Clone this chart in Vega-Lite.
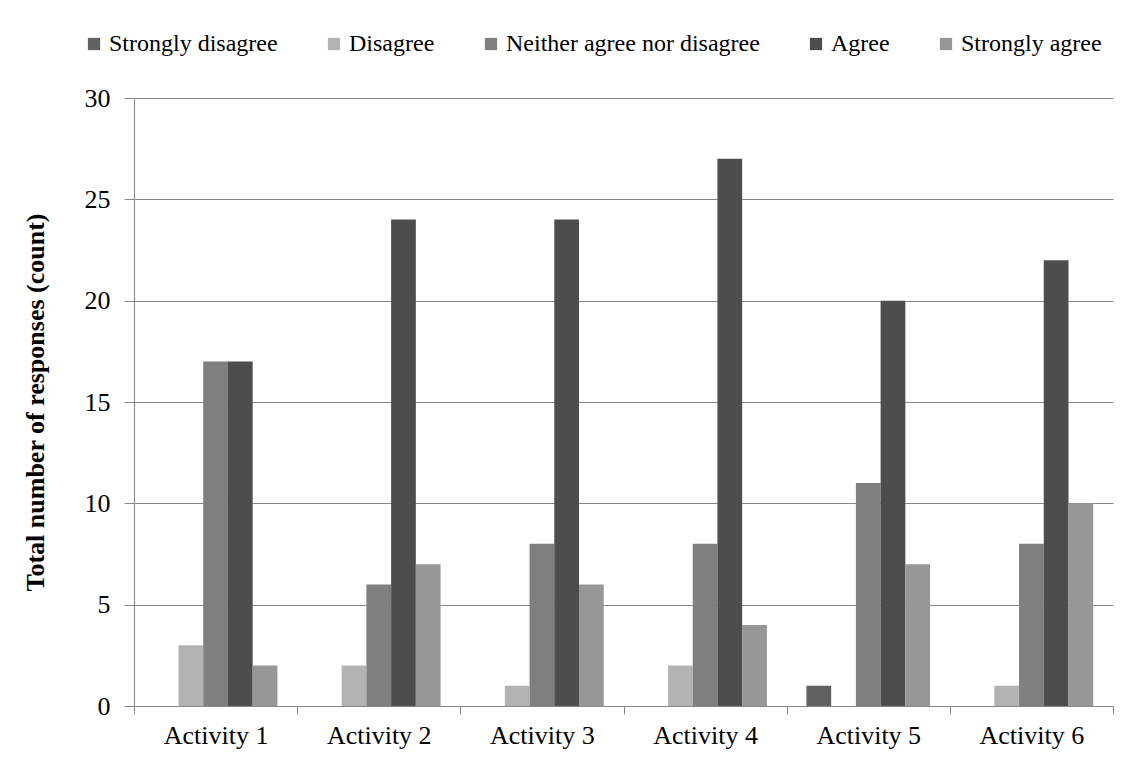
{
  "$schema": "https://vega.github.io/schema/vega-lite/v6.json",
  "autosize": {"type": "none"},
  "width": 979,
  "height": 608,
  "padding": {"left": 134, "top": 98, "right": 16, "bottom": 64},
  "background": "white",
  "data": {
    "values": [
      {"activity": "Activity 1", "response": "Strongly disagree", "count": 0},
      {"activity": "Activity 1", "response": "Disagree", "count": 3},
      {"activity": "Activity 1", "response": "Neither agree nor disagree", "count": 17},
      {"activity": "Activity 1", "response": "Agree", "count": 17},
      {"activity": "Activity 1", "response": "Strongly agree", "count": 2},
      {"activity": "Activity 2", "response": "Strongly disagree", "count": 0},
      {"activity": "Activity 2", "response": "Disagree", "count": 2},
      {"activity": "Activity 2", "response": "Neither agree nor disagree", "count": 6},
      {"activity": "Activity 2", "response": "Agree", "count": 24},
      {"activity": "Activity 2", "response": "Strongly agree", "count": 7},
      {"activity": "Activity 3", "response": "Strongly disagree", "count": 0},
      {"activity": "Activity 3", "response": "Disagree", "count": 1},
      {"activity": "Activity 3", "response": "Neither agree nor disagree", "count": 8},
      {"activity": "Activity 3", "response": "Agree", "count": 24},
      {"activity": "Activity 3", "response": "Strongly agree", "count": 6},
      {"activity": "Activity 4", "response": "Strongly disagree", "count": 0},
      {"activity": "Activity 4", "response": "Disagree", "count": 2},
      {"activity": "Activity 4", "response": "Neither agree nor disagree", "count": 8},
      {"activity": "Activity 4", "response": "Agree", "count": 27},
      {"activity": "Activity 4", "response": "Strongly agree", "count": 4},
      {"activity": "Activity 5", "response": "Strongly disagree", "count": 1},
      {"activity": "Activity 5", "response": "Disagree", "count": 0},
      {"activity": "Activity 5", "response": "Neither agree nor disagree", "count": 11},
      {"activity": "Activity 5", "response": "Agree", "count": 20},
      {"activity": "Activity 5", "response": "Strongly agree", "count": 7},
      {"activity": "Activity 6", "response": "Strongly disagree", "count": 0},
      {"activity": "Activity 6", "response": "Disagree", "count": 1},
      {"activity": "Activity 6", "response": "Neither agree nor disagree", "count": 8},
      {"activity": "Activity 6", "response": "Agree", "count": 22},
      {"activity": "Activity 6", "response": "Strongly agree", "count": 10}
    ]
  },
  "mark": {"type": "bar"},
  "encoding": {
    "x": {
      "field": "activity",
      "type": "nominal",
      "sort": ["Activity 1", "Activity 2", "Activity 3", "Activity 4", "Activity 5", "Activity 6"],
      "scale": {"paddingInner": 0, "paddingOuter": 0},
      "axis": {
        "title": null,
        "labelAngle": 0,
        "labelFontSize": 26,
        "labelColor": "#000000",
        "labelPadding": 8,
        "tickBand": "extent",
        "tickSize": 8,
        "tickColor": "#888888",
        "domainColor": "#888888",
        "grid": false
      }
    },
    "xOffset": {
      "field": "response",
      "type": "nominal",
      "sort": ["Strongly disagree", "Disagree", "Neither agree nor disagree", "Agree", "Strongly agree"],
      "scale": {"paddingInner": 0, "paddingOuter": 0.8}
    },
    "y": {
      "field": "count",
      "type": "quantitative",
      "scale": {"domain": [0, 30]},
      "axis": {
        "title": "Total number of responses (count)",
        "titleFontSize": 26,
        "titleFontWeight": "bold",
        "titleColor": "#000000",
        "titlePadding": 36,
        "values": [0, 5, 10, 15, 20, 25, 30],
        "labelFontSize": 26,
        "labelColor": "#000000",
        "labelPadding": 14,
        "tickSize": 10,
        "tickColor": "#888888",
        "domainColor": "#888888",
        "grid": true,
        "gridColor": "#888888"
      }
    },
    "color": {
      "field": "response",
      "type": "nominal",
      "sort": ["Strongly disagree", "Disagree", "Neither agree nor disagree", "Agree", "Strongly agree"],
      "scale": {
        "domain": ["Strongly disagree", "Disagree", "Neither agree nor disagree", "Agree", "Strongly agree"],
        "range": ["#606060", "#b3b3b3", "#7f7f7f", "#4d4d4d", "#979797"]
      },
      "legend": {
        "title": null,
        "orient": "none",
        "direction": "horizontal",
        "legendX": -52,
        "legendY": -66,
        "symbolType": "square",
        "symbolSize": 150,
        "symbolStrokeWidth": 0,
        "labelFontSize": 24,
        "labelColor": "#000000",
        "labelOffset": 3,
        "labelLimit": 400,
        "columnPadding": 44
      }
    }
  },
  "config": {
    "font": "Liberation Serif",
    "view": {"stroke": null}
  }
}
